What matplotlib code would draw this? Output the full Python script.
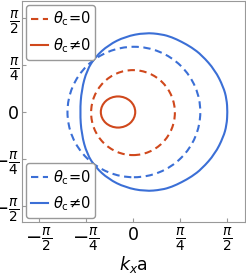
import numpy as np
import matplotlib
matplotlib.use("Agg")
from matplotlib import pyplot as plt
from matplotlib.patches import Ellipse, PathPatch
from matplotlib.path import Path
from matplotlib.lines import Line2D

plt.rcParams["mathtext.fontset"] = "dejavusans"

# %%
# contours (units of k*a, radians)
# theta_c != 0, blue (closed, not an ellipse)
blue_solid_kx = [1.58, 1.565, 1.51, 1.37, 1.15, 0.98, 0.81, 0.65, 0.48, 0.20, -0.13, -0.41,
                 -0.63, -0.77, -0.86, -0.886, -0.86, -0.77, -0.63, -0.41, -0.13, 0.20, 0.48,
                 0.65, 0.81, 0.98, 1.15, 1.37, 1.51, 1.565]
blue_solid_ky = [0.0, 0.22, 0.42, 0.70, 0.95, 1.08, 1.175, 1.25, 1.30, 1.325, 1.26, 1.12,
                 0.92, 0.70, 0.37, 0.0, -0.37, -0.70, -0.92, -1.12, -1.26, -1.325, -1.30,
                 -1.25, -1.175, -1.08, -0.95, -0.70, -0.42, -0.22]

# ellipse-like contours: center x, center y, full width, full height
blue_dashed = (0.015, 0.0, 2.22, 2.18)
red_dashed = (0.0, -0.01, 1.40, 1.42)
red_solid = (-0.25, 0.0, 0.575, 0.52)

tick_values = [-np.pi / 2, -np.pi / 4, 0, np.pi / 4, np.pi / 2]
tick_labels = [r"$-\frac{\pi}{2}$", r"$-\frac{\pi}{4}$", "0", r"$\frac{\pi}{4}$", r"$\frac{\pi}{2}$"]
legend_labels = [r"$\theta_{\rm c}$=0", r"$\theta_{\rm c}$≠0"]

BLUE = "#3b6fd6"
RED = "#d0481c"
DASH = (0, (3.5, 2.2))


def smooth_closed_path(xs, ys):
    # closed quadratic-bezier path: read points act as control points
    pts = np.column_stack([xs, ys])
    mids = (pts + np.roll(pts, -1, axis=0)) / 2
    verts = [mids[-1]]
    codes = [Path.MOVETO]
    for p, m in zip(pts, mids):
        verts += [p, m]
        codes += [Path.CURVE3, Path.CURVE3]
    return Path(verts, codes)


# %%
fig = plt.figure(figsize=(2.46, 2.79), dpi=100)
ax = fig.add_axes([22 / 246, 57 / 279, 223 / 246, 221 / 279])

ax.add_patch(PathPatch(smooth_closed_path(blue_solid_kx, blue_solid_ky),
                       fill=False, edgecolor=BLUE, lw=1.5))
for (cx, cy, w, h), col, ls in [
    (blue_dashed, BLUE, DASH),
    (red_dashed, RED, DASH),
    (red_solid, RED, "-"),
]:
    ax.add_patch(Ellipse((cx, cy), w, h, fill=False, edgecolor=col, lw=1.5, linestyle=ls))

ax.set_xlim(-1.855, 1.872)
ax.set_ylim(-1.838, 1.855)
ax.set_xticks(tick_values)
ax.set_xticklabels(tick_labels)
ax.set_yticks(tick_values)
ax.set_yticklabels(tick_labels)
ax.tick_params(direction="in", length=3, width=0.8, color="#999999", labelsize=14, pad=3)
ax.tick_params(axis="y", pad=2)
for lab in ax.get_xticklabels() + ax.get_yticklabels():
    if lab.get_text() == "0":
        lab.set_fontsize(12.5)
for sp in ax.spines.values():
    sp.set_color("#999999")
    sp.set_linewidth(0.8)
ax.set_xlabel(r"$k_x$a", fontsize=12.5, labelpad=0)

legend_kw = dict(prop={"size": 10.5}, frameon=True, fancybox=True, edgecolor="#999999",
                 framealpha=1, handlelength=1.2, handletextpad=0.3, labelspacing=0.55,
                 borderpad=0.3, borderaxespad=0.3)
red_handles = [Line2D([], [], color=RED, lw=1.5, linestyle=DASH),
               Line2D([], [], color=RED, lw=1.5)]
blue_handles = [Line2D([], [], color=BLUE, lw=1.5, linestyle=DASH),
                Line2D([], [], color=BLUE, lw=1.5)]
leg1 = ax.legend(red_handles, legend_labels, loc="upper left", **legend_kw)
ax.add_artist(leg1)
ax.legend(blue_handles, legend_labels, loc="lower left", **legend_kw)

fig.savefig("out.png", dpi=100)
